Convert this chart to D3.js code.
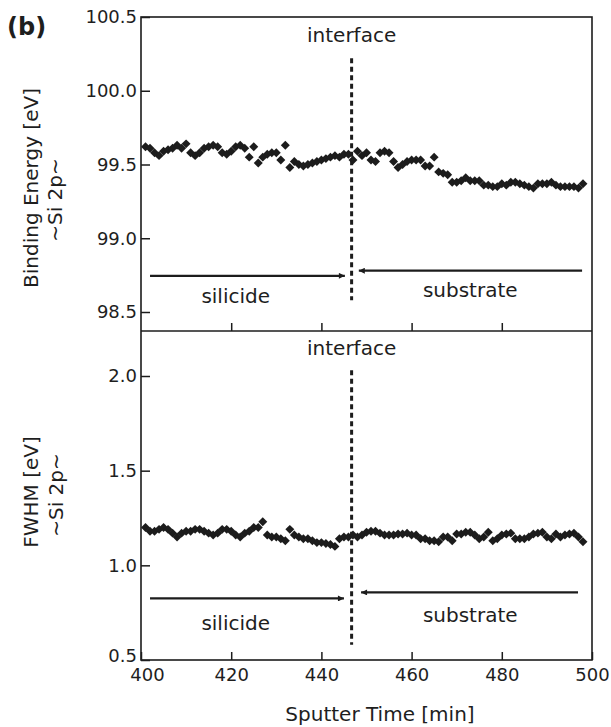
<!DOCTYPE html>
<html>
<head>
<meta charset="utf-8">
<script src="https://cdn.jsdelivr.net/npm/d3@7"></script>
<style>
  body { margin: 0; background: #fff; }
  svg { display: block; }
  text { font-family: "DejaVu Sans", sans-serif; fill: #1e1e1e; }
</style>
</head>
<body>
<script>
// ---------- data ----------
const sputterTime = [401,402,403,404,405,406,407,408,409,410,411,412,413,414,415,416,417,418,419,420,
  421,422,423,424,425,426,427,428,429,430,431,432,433,434,435,436,437,438,439,440,
  441,442,443,444,445,446,447,448,449,450,451,452,453,454,455,456,457,458,459,460,
  461,462,463,464,465,466,467,468,469,470,471,472,473,474,475,476,477,478,479,480,
  481,482,483,484,485,486,487,488,489,490,491,492,493,494,495,496,497,498];

const bindingEnergy = [99.62,99.61,99.58,99.56,99.59,99.60,99.61,99.63,99.61,99.64,
  99.58,99.56,99.58,99.61,99.62,99.63,99.62,99.58,99.57,99.59,
  99.62,99.63,99.61,99.55,99.62,99.51,99.55,99.57,99.58,99.58,
  99.53,99.63,99.48,99.52,99.50,99.49,99.50,99.51,99.52,99.53,
  99.54,99.55,99.56,99.55,99.57,99.57,99.53,99.59,99.56,99.58,
  99.53,99.52,99.58,99.59,99.58,99.52,99.48,99.50,99.52,99.53,
  99.53,99.53,99.49,99.49,99.55,99.45,99.44,99.43,99.38,99.38,
  99.39,99.41,99.39,99.39,99.39,99.36,99.36,99.35,99.35,99.37,
  99.36,99.38,99.38,99.37,99.36,99.35,99.34,99.37,99.37,99.37,
  99.38,99.36,99.35,99.35,99.35,99.35,99.34,99.37];

const fwhm = [1.20,1.18,1.18,1.19,1.20,1.19,1.17,1.15,1.17,1.18,
  1.18,1.19,1.19,1.18,1.17,1.16,1.17,1.19,1.19,1.18,
  1.16,1.15,1.17,1.18,1.20,1.20,1.23,1.16,1.15,1.15,
  1.14,1.13,1.19,1.16,1.15,1.14,1.14,1.13,1.12,1.12,
  1.115,1.11,1.10,1.14,1.15,1.15,1.16,1.15,1.16,1.175,
  1.18,1.18,1.17,1.16,1.16,1.16,1.165,1.165,1.17,1.16,
  1.16,1.14,1.14,1.13,1.13,1.125,1.15,1.15,1.13,1.165,
  1.165,1.175,1.175,1.16,1.14,1.15,1.175,1.13,1.14,1.16,
  1.165,1.17,1.14,1.14,1.14,1.15,1.165,1.17,1.175,1.15,
  1.14,1.165,1.15,1.16,1.165,1.17,1.15,1.125];

const xTicks = [400, 420, 440, 460, 480, 500];
const topYTicks = [98.5, 99.0, 99.5, 100.0, 100.5];
const botYTicks = [0.5, 1.0, 1.5, 2.0];
const interfaceTime = 446.7;

// ---------- layout ----------
const W = 611, H = 727;
const left = 141, right = 592;
const topPanel = { y0: 17, y1: 331 };
const botPanel = { y0: 331, y1: 660 };
const ink = "#1c1c1c";

const svg = d3.select("body").append("svg").attr("width", W).attr("height", H);

const x = d3.scaleLinear().domain([400, 500]).range([left, right]);
const yTop = d3.scaleLinear().domain([98.5, 100.5]).range([312, 17]);
const yBot = d3.scaleLinear().domain([0.5, 2.0]).range([660, 376]);

// frame
svg.append("rect").attr("x", left).attr("y", topPanel.y0)
  .attr("width", right - left).attr("height", botPanel.y1 - topPanel.y0)
  .attr("fill", "none").attr("stroke", ink).attr("stroke-width", 1.6);
svg.append("line").attr("x1", left).attr("x2", right)
  .attr("y1", topPanel.y1).attr("y2", topPanel.y1)
  .attr("stroke", ink).attr("stroke-width", 1.6);

function styleAxis(g) {
  g.select(".domain").remove();
  g.selectAll(".tick line").attr("stroke", ink).attr("stroke-width", 1.5);
  g.selectAll(".tick text").attr("font-size", 18).attr("fill", ink)
    .attr("font-family", "DejaVu Sans, sans-serif");
}

// y axes
svg.append("g").attr("transform", `translate(${left},0)`)
  .call(d3.axisLeft(yTop).tickValues(topYTicks).tickSize(-9).tickPadding(4).tickFormat(d3.format(".1f")))
  .call(styleAxis);
svg.append("g").attr("transform", `translate(${left},0)`)
  .call(d3.axisLeft(yBot).tickValues(botYTicks).tickSize(-9).tickPadding(4).tickFormat(d3.format(".1f")))
  .call(styleAxis)
  .call(g => g.selectAll(".tick text").filter(d => d === 0.5).attr("dy", "0.1em"));

// x axes (inner ticks)
svg.append("g").attr("transform", `translate(0,${topPanel.y1})`)
  .call(d3.axisBottom(x).tickValues(xTicks.slice(1, -1)).tickSize(-8).tickFormat(""))
  .call(styleAxis);
svg.append("g").attr("transform", `translate(0,${botPanel.y1})`)
  .call(d3.axisBottom(x).tickValues(xTicks).tickSize(-8).tickPadding(8).tickFormat(d3.format("d")))
  .call(styleAxis)
  .call(g => g.selectAll(".tick text").filter(d => d === 400).attr("dx", 6));

// interface lines
function dashed(yScale, v0, v1) {
  svg.append("line")
    .attr("x1", x(interfaceTime)).attr("x2", x(interfaceTime))
    .attr("y1", yScale(v0)).attr("y2", yScale(v1))
    .attr("stroke", ink).attr("stroke-width", 3)
    .attr("stroke-dasharray", "5,3.5");
}
dashed(yTop, 100.22, 98.58);
dashed(yBot, 2.03, 0.58);

// arrows
const defs = svg.append("defs");
defs.append("marker").attr("id", "ah").attr("viewBox", "0 0 10 10")
  .attr("refX", 10).attr("refY", 5).attr("markerWidth", 13).attr("markerHeight", 6)
  .attr("markerUnits", "userSpaceOnUse").attr("orient", "auto")
  .append("path").attr("d", "M0,0 L10,5 L0,10 Z").attr("fill", ink);

function arrow(yScale, t0, t1, v) {
  svg.append("line")
    .attr("x1", x(t0)).attr("x2", x(t1))
    .attr("y1", yScale(v)).attr("y2", yScale(v))
    .attr("stroke", ink).attr("stroke-width", 2.2)
    .attr("marker-end", "url(#ah)");
}
arrow(yTop, 402, 445.2, 98.745);
arrow(yTop, 497.8, 448.3, 98.78);
arrow(yBot, 402, 445.0, 0.825);
arrow(yBot, 496.9, 448.8, 0.857);

// labels inside panels
function label(txt, t, yScale, v, size) {
  svg.append("text").attr("x", x(t)).attr("y", yScale(v))
    .attr("text-anchor", "middle").attr("font-size", size).text(txt);
}
label("interface", interfaceTime, yTop, 100.33, 20);
label("silicide", 421, yTop, 98.56, 20);
label("substrate", 473, yTop, 98.605, 20);
label("interface", interfaceTime, yBot, 2.11, 20);
label("silicide", 421, yBot, 0.66, 20);
label("substrate", 473, yBot, 0.70, 20);

// data markers (diamonds)
const diamond = d3.symbol().type(d3.symbolSquare).size(40);
function plot(yScale, vals) {
  svg.append("g").selectAll("path").data(sputterTime)
    .join("path")
    .attr("d", diamond)
    .attr("transform", (d, i) => `translate(${x(d)},${yScale(vals[i])}) rotate(45)`)
    .attr("fill", ink);
}
plot(yTop, bindingEnergy);
plot(yBot, fwhm);

// axis titles
function vtitle(txt, cx, cy, size) {
  svg.append("text").attr("transform", `translate(${cx},${cy}) rotate(-90)`)
    .attr("text-anchor", "middle").attr("dominant-baseline", "central")
    .attr("font-size", size).text(txt);
}
vtitle("Binding Energy [eV]", 31, 188, 20);
vtitle("~Si 2p~", 55, 200, 20);
vtitle("FWHM [eV]", 31, 492, 20);
vtitle("~Si 2p~", 56, 495, 20);

svg.append("text").attr("x", 380).attr("y", 721).attr("text-anchor", "middle")
  .attr("font-size", 20).text("Sputter Time [min]");

svg.append("text").attr("x", 7).attr("y", 35).attr("font-size", 24)
  .attr("font-weight", "bold").text("(b)");
</script>
</body>
</html>
